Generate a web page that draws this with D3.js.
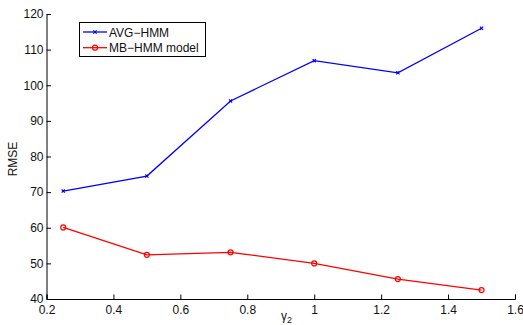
<!DOCTYPE html>
<html><head><meta charset="utf-8">
<script src="https://cdn.jsdelivr.net/npm/d3@7"></script>
<style>body{margin:0;background:#fff}svg{display:block}text{font-family:"Liberation Sans",Arial,sans-serif;}</style>
</head><body>
<script>
const gammaValues = [0.25, 0.5, 0.75, 1.0, 1.25, 1.5];
const avgHmm = [70.3, 74.5, 95.6, 106.9, 103.5, 116.0];
const mbHmm = [60.1, 52.4, 53.1, 50.0, 45.6, 42.5];
const xTicks = [0.2, 0.4, 0.6, 0.8, 1, 1.2, 1.4, 1.6];
const yTicks = [40, 50, 60, 70, 80, 90, 100, 110, 120];
const seriesNames = ["AVG\u2212HMM", "MB\u2212HMM model"];

const W = 523, H = 325;
const FS = 12;
const svg = d3.select("body").append("svg").attr("width", W).attr("height", H);
const x = d3.scaleLinear().domain([0.2, 1.6]).range([46.5, 515]);
const y = d3.scaleLinear().domain([40, 120]).range([299, 14]);

const xAxis = svg.append("g").attr("transform", "translate(0,299)")
  .call(d3.axisBottom(x).tickValues(xTicks).tickSize(-4.5).tickPadding(6).tickFormat(d3.format("")));
const yAxis = svg.append("g").attr("transform", "translate(46.5,0)")
  .call(d3.axisLeft(y).tickValues(yTicks).tickSize(-4.5).tickPadding(7));
[xAxis, yAxis].forEach(a => {
  a.select(".domain").attr("stroke", "#000").attr("stroke-width", 1);
  a.selectAll(".tick line").attr("stroke", "#000");
  a.selectAll("text").attr("font-size", FS).attr("fill", "#111").attr("font-family", "Liberation Sans, Arial, sans-serif");
});
yAxis.selectAll("text").attr("dx", "4");

const line = d3.line().x((d, i) => x(gammaValues[i])).y(d => y(d));
svg.append("path").datum(avgHmm).attr("d", line).attr("fill", "none").attr("stroke", "#0000ff").attr("stroke-width", 1.3);
svg.append("path").datum(mbHmm).attr("d", line).attr("fill", "none").attr("stroke", "#ff0000").attr("stroke-width", 1.3);

const cross = d3.symbol().type(d3.symbolX).size(8);
svg.selectAll(".bm").data(avgHmm).enter().append("path")
  .attr("d", cross).attr("transform", (d, i) => `translate(${x(gammaValues[i])},${y(d)})`)
  .attr("stroke", "#0000ff").attr("stroke-width", 1.2).attr("fill", "none");
svg.selectAll(".rm").data(mbHmm).enter().append("circle")
  .attr("cx", (d, i) => x(gammaValues[i])).attr("cy", d => y(d)).attr("r", 2.5)
  .attr("stroke", "#ff0000").attr("stroke-width", 1.2).attr("fill", "none");

// legend
const lg = svg.append("g");
lg.append("rect").attr("x", 79.5).attr("y", 22.5).attr("width", 126).attr("height", 34)
  .attr("fill", "#fff").attr("stroke", "#000").attr("stroke-width", 1);
const colors = ["#0000ff", "#ff0000"];
seriesNames.forEach((n, i) => {
  const yy = 32 + i * 15.7;
  lg.append("line").attr("x1", 83).attr("x2", 107).attr("y1", yy).attr("y2", yy)
    .attr("stroke", colors[i]).attr("stroke-width", 1.3);
  if (i === 0) {
    lg.append("path").attr("d", cross).attr("transform", `translate(95,${yy})`)
      .attr("stroke", colors[i]).attr("stroke-width", 1.2).attr("fill", "none");
  } else {
    lg.append("circle").attr("cx", 95).attr("cy", yy).attr("r", 2.5)
      .attr("stroke", colors[i]).attr("stroke-width", 1.2).attr("fill", "none");
  }
  lg.append("text").attr("x", 109).attr("y", yy + 4.5).attr("font-size", FS).attr("fill", "#111").text(n);
});

// axis labels
svg.append("text").attr("transform", "translate(17,159) rotate(-90)").attr("text-anchor", "middle")
  .attr("font-size", FS).attr("fill", "#111").text("RMSE");
const xl = svg.append("text").attr("x", 281).attr("y", 320).attr("font-size", FS).attr("fill", "#111");
xl.append("tspan").text("\u03b3");
xl.append("tspan").attr("font-size", 9).attr("dy", 3).text("2");
</script>
</body></html>
